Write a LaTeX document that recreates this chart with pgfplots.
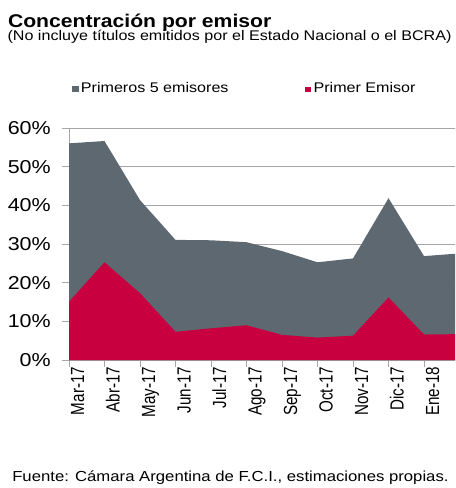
\documentclass[border=0pt]{standalone}
\usepackage{fontspec}
\setmainfont{Liberation Sans}[FakeStretch=1.15]
\newfontfamily\plainfont{Liberation Sans}
\usepackage{pgfplots}
\pgfplotsset{compat=1.18}
\definecolor{slate}{HTML}{5E6870}
\definecolor{crim}{HTML}{C8003F}
\definecolor{gridc}{HTML}{A6A6A6}
\begin{document}
\begin{tikzpicture}
\useasboundingbox (0,0) rectangle (341.25pt,-366pt);
\clip (0,0) rectangle (341.25pt,-366pt);
\node[anchor=base west, inner sep=0pt, font=\fontsize{13.8}{16}\selectfont\bfseries] at (5.8pt,-20.5pt) {Concentración por emisor};
\node[anchor=base west, inner sep=0pt, font=\fontsize{10.5}{12}\selectfont] at (5.5pt,-30.5pt) {(No incluye títulos emitidos por el Estado Nacional o el BCRA)};
\fill[slate] (54pt,-64.7pt) rectangle (59pt,-69pt);
\node[anchor=base west, inner sep=0pt, font=\fontsize{10.5}{12}\selectfont] at (60.5pt,-69.5pt) {Primeros 5 emisores};
\fill[crim] (228.75pt,-65.5pt) rectangle (233pt,-69pt);
\node[anchor=base west, inner sep=0pt, font=\fontsize{10.5}{12}\selectfont] at (235pt,-69.5pt) {Primer Emisor};
\node[anchor=base west, inner sep=0pt, font=\fontsize{10.9}{12}\selectfont] at (9pt,-361.3pt) {Fuente: Cámara Argentina de F.C.I., estimaciones propias.};
\begin{axis}[
  at={(51.75pt,-270pt)}, anchor=south west,
  scale only axis, width=292.875pt, height=173.8pt,
  xmin=0, xmax=11, ymin=0, ymax=60,
  axis lines=left,
  axis line style={-, gridc, line width=0.75pt},
  tick style={gridc, line width=0.75pt},
  tick align=outside, major tick length=5pt,
  ymajorgrids, grid style={gridc, line width=0.75pt},
  xtick={0,...,11},
  xticklabels={Mar-17,Abr-17,May-17,Jun-17,Jul-17,Ago-17,Sep-17,Oct-17,Nov-17,Dic-17,Ene-18,Feb-18},
  ytick={0,10,...,60},
  yticklabel={\pgfmathprintnumber{\tick}\%},
  /pgf/number format/assume math mode=true,
  yticklabel style={font=\fontsize{14}{16}\selectfont, inner sep=0pt, anchor=east, xshift=-8.5pt},
  xticklabel style={font=\plainfont\fontsize{11.4}{13}\selectfont, inner sep=0pt, xscale=1.25, rotate=90, anchor=east, text height=0.72em, text depth=0.21em, yshift=-6.5pt},
]
\addplot[fill=slate, draw=none] coordinates {(0,56.1)(1,56.7)(2,41.4)(3,31.1)(4,31.0)(5,30.5)(6,28.2)(7,25.3)(8,26.3)(9,41.9)(10,26.9)(11,27.6)} \closedcycle;
\addplot[fill=crim, draw=none] coordinates {(0,15.1)(1,25.3)(2,17.3)(3,7.3)(4,8.2)(5,9.0)(6,6.5)(7,5.8)(8,6.3)(9,16.2)(10,6.6)(11,6.7)} \closedcycle;
\end{axis}
\end{tikzpicture}
\end{document}
